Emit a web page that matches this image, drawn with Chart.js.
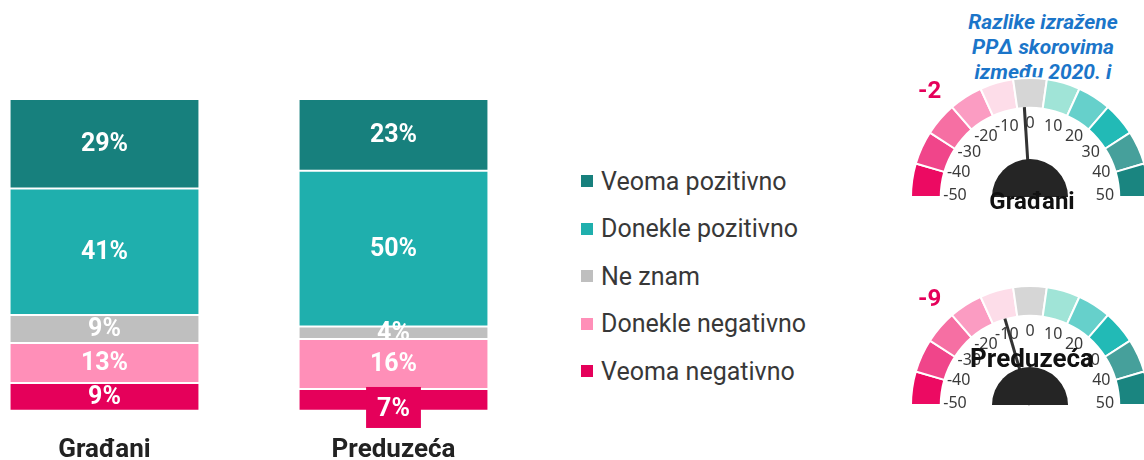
<!DOCTYPE html>
<html>
<head>
<meta charset="utf-8">
<script src="https://cdn.jsdelivr.net/npm/chart.js@4.4.1/dist/chart.umd.min.js"></script>
<style>
  body { margin: 0; width: 1144px; height: 460px; overflow: hidden; background: #fff; font-family: Roboto, sans-serif; position: relative; }
  canvas { position: absolute; }
  #barChart { left: -40px; top: 0; }
  #gauge1 { left: 889px; top: 60px; }
  #gauge2 { left: 889px; top: 268px; }
  .legend-item { position: absolute; left: 581px; height: 30px; display: flex; align-items: center; font-size: 25px; color: #383838; white-space: nowrap; }
  .legend-item span.box { width: 12px; height: 12px; margin-right: 8px; display: inline-block; }
  #gaugeTitle { position: absolute; left: 943px; top: 10px; width: 200px; text-align: center; color: #1B75C9; font-weight: bold; font-style: italic; font-size: 21px; line-height: 25px; }
</style>
</head>
<body>

<div id="gaugeTitle">Razlike izražene<br>PPΔ skorovima<br>između 2020. i</div>
<div id="legend"></div>
<canvas id="barChart" width="578" height="490"></canvas>
<canvas id="gauge1" width="280" height="170"></canvas>
<canvas id="gauge2" width="280" height="170"></canvas>

<script>
// podaci
const categories = ['Građani', 'Preduzeća'];
const seriesNames = ['Veoma pozitivno', 'Donekle pozitivno', 'Ne znam', 'Donekle negativno', 'Veoma negativno'];
const seriesColors = ['#17807D', '#1FAFAD', '#BFBFBF', '#FF8FB8', '#E5005A'];
const veomaPozitivno = [29, 23];
const doneklePozitivno = [41, 50];
const neZnam = [9, 4];
const donekleNegativno = [13, 16];
const veomaNegativno = [9, 7];

const gaugeNames = ['Građani', 'Preduzeća'];
const gaugeValues = [-2, -9];
const gaugeTicks = [-50, -40, -30, -20, -10, 0, 10, 20, 30, 40, 50];
const gaugeBands = [1, 1, 1, 1, 1, 1, 1, 1, 1, 1, 1];
const gaugeColors = ['#EC0A62', '#F0458A', '#F66FA3', '#FB9CC2', '#FDDDE9', '#D6D6D6',
                     '#A0E4D7', '#66D0CB', '#22BAB6', '#46A09B', '#1A8580'];

Chart.defaults.font.family = 'Roboto';

// legenda
const legendEl = document.getElementById('legend');
seriesNames.forEach((name, i) => {
    const item = document.createElement('div');
    item.className = 'legend-item';
    item.style.top = (166 + i * 47.5) + 'px';
    item.innerHTML = '<span class="box" style="background:' + seriesColors[i] + '"></span>' + name;
    legendEl.appendChild(item);
});

// stubici su normalizovani na 100%
const rawSeries = [veomaPozitivno, doneklePozitivno, neZnam, donekleNegativno, veomaNegativno];
const totals = categories.map((c, i) => rawSeries.reduce((s, arr) => s + arr[i], 0));

const datasets = rawSeries.map((arr, si) => ({
    label: seriesNames[si],
    raw: arr,
    data: arr.map((v, i) => v / totals[i] * 100),
    backgroundColor: seriesColors[si],
    borderColor: '#fff',
    borderWidth: 1,
    borderSkipped: false,
    barPercentage: 0.657,
    categoryPercentage: 1
})).reverse();

const barLabels = {
    id: 'barLabels',
    afterDatasetsDraw(chart) {
        const ctx = chart.ctx;
        ctx.save();
        ctx.font = 'bold 25px Roboto';
        ctx.textAlign = 'center';
        ctx.textBaseline = 'middle';
        chart.data.datasets.forEach((ds, di) => {
            chart.getDatasetMeta(di).data.forEach((bar, i) => {
                const txt = ds.raw[i] + '%';
                const h = bar.base - bar.y;
                let y = bar.y + h / 2;
                if (h < 24 && di === 0) {
                    // mali segment dobija pozadinu
                    const w = ctx.measureText(txt).width + 22;
                    ctx.fillStyle = ds.backgroundColor;
                    ctx.fillRect(bar.x - w / 2, bar.y - 2, w, 41);
                    y = bar.y + 20;
                }
                ctx.fillStyle = '#fff';
                ctx.fillText(txt, bar.x, y + 1);
            });
        });
        ctx.restore();
    }
};

new Chart(document.getElementById('barChart'), {
    type: 'bar',
    data: { labels: categories, datasets: datasets },
    options: {
        responsive: false,
        animation: false,
        layout: { padding: { top: 99 } },
        plugins: { legend: { display: false }, tooltip: { enabled: false } },
        scales: {
            x: {
                stacked: true,
                grid: { display: false, drawTicks: false },
                border: { display: false },
                ticks: { padding: 24, color: '#222', font: { size: 26, weight: 'bold' } }
            },
            y: { stacked: true, display: false, min: 0, max: 100 }
        }
    },
    plugins: [barLabels]
});

// merači
const gaugeExtras = {
    id: 'gaugeExtras',
    afterDatasetsDraw(chart, args, opts) {
        const arc = chart.getDatasetMeta(0).data[0];
        const cx = arc.x, cy = arc.y;
        const ctx = chart.ctx;
        ctx.save();

        // oznake skale
        ctx.font = '16px "Noto Sans"';
        ctx.fillStyle = '#3a3a3a';
        ctx.textAlign = 'center';
        ctx.textBaseline = 'middle';
        const min = gaugeTicks[0], max = gaugeTicks[gaugeTicks.length - 1];
        gaugeTicks.forEach(t => {
            const a = (t - min) / (max - min) * Math.PI;
            ctx.fillText(String(t), cx - 75 * Math.cos(a), cy - 72 * Math.sin(a) - 2);
        });

        // kazaljka
        const va = (opts.value - min) / (max - min) * Math.PI;
        ctx.strokeStyle = '#333';
        ctx.lineWidth = 3;
        ctx.beginPath();
        ctx.moveTo(cx, cy);
        ctx.lineTo(cx - 90 * Math.cos(va), cy - 90 * Math.sin(va));
        ctx.stroke();

        ctx.fillStyle = '#252525';
        ctx.beginPath();
        ctx.arc(cx, cy, 38, Math.PI, 2 * Math.PI);
        ctx.closePath();
        ctx.fill();

        // vrednost
        ctx.font = 'bold 24px Roboto';
        ctx.fillStyle = '#E5005A';
        ctx.textAlign = 'left';
        ctx.textBaseline = 'alphabetic';
        ctx.fillText(String(opts.value), cx - 112, cy - 99);

        // naziv
        ctx.font = 'bold ' + opts.nameSize + 'px Roboto';
        ctx.fillStyle = '#111';
        ctx.textAlign = 'center';
        ctx.textBaseline = 'middle';
        ctx.fillText(opts.name, cx + 2, cy + opts.nameOffset);
        ctx.restore();
    }
};

function makeGauge(id, idx, nameOffset, nameSize) {
    new Chart(document.getElementById(id), {
        type: 'doughnut',
        data: {
            datasets: [{
                data: gaugeBands,
                backgroundColor: gaugeColors,
                borderColor: '#fff',
                borderWidth: 2
            }]
        },
        options: {
            responsive: false,
            animation: false,
            rotation: -90,
            circumference: 180,
            cutout: '75%',
            layout: { padding: { left: 20, right: 18, top: 17, bottom: 32 } },
            plugins: {
                legend: { display: false },
                tooltip: { enabled: false },
                gaugeExtras: { value: gaugeValues[idx], name: gaugeNames[idx], nameOffset: nameOffset, nameSize: nameSize }
            }
        },
        plugins: [gaugeExtras]
    });
}

makeGauge('gauge1', 0, 6, 24);
makeGauge('gauge2', 1, -45, 26);
</script>
</body>
</html>
